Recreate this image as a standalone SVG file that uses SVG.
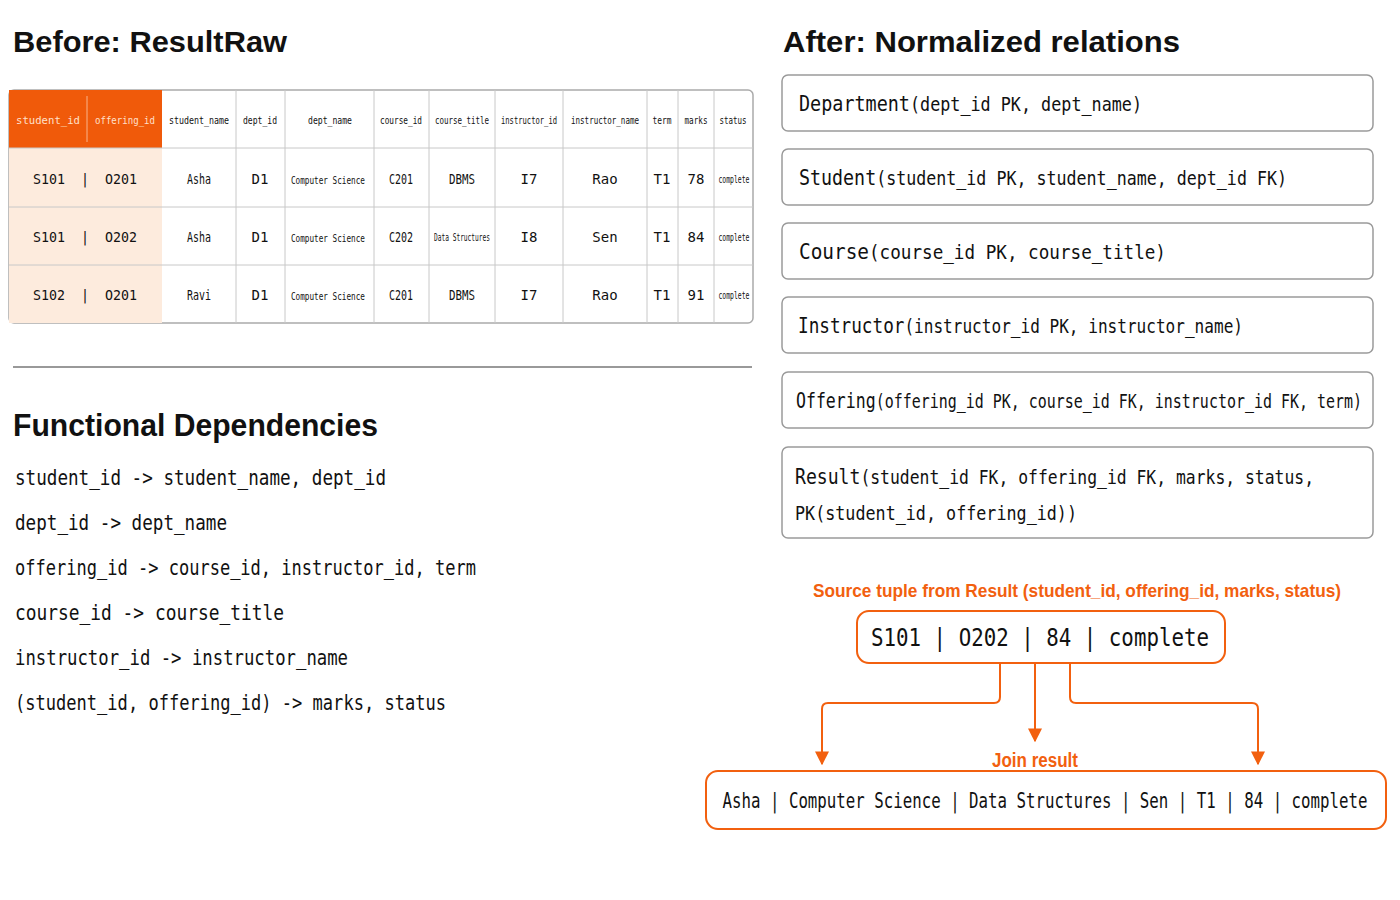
<svg xmlns="http://www.w3.org/2000/svg" width="1400" height="900" viewBox="0 0 1400 900">
<style>
.h{font-family:"Liberation Sans",Arial,sans-serif;font-weight:bold;fill:#111}
.m{font-family:"DejaVu Sans Mono","Liberation Mono",monospace;fill:#111}
.th{font-size:11px;text-anchor:middle}
.td{font-size:14px;text-anchor:middle}
.rel{fill:#fff;stroke:#9a9a9a;stroke-width:1.5}
.or{fill:#fff;stroke:#F2600F;stroke-width:2}
.cn{fill:none;stroke:#F2600F;stroke-width:2}
.ol{font-family:"Liberation Sans",Arial,sans-serif;font-weight:bold;fill:#F2600F}
.grid{stroke:#c8c8c8;stroke-width:1}
</style>
<defs>
<marker id="ar" viewBox="0 0 10 10" refX="9" refY="5" markerWidth="7" markerHeight="7" orient="auto"><path d="M0,0L10,5L0,10z" fill="#F2600F"/></marker>
</defs>
<rect width="1400" height="900" fill="#fff"/>
<text class="h" x="13" y="52" font-size="30" textLength="274" lengthAdjust="spacingAndGlyphs">Before: ResultRaw</text>
<text class="h" x="783" y="52" font-size="30" textLength="397" lengthAdjust="spacingAndGlyphs">After: Normalized relations</text>

<g id="table">
<rect x="9" y="90" width="744" height="233" rx="5" fill="#fff" stroke="#aaa" stroke-width="1.5"/>
<rect x="9" y="90" width="153" height="58" fill="#F05A0A"/>
<rect x="9" y="148" width="153" height="175" fill="#FDEBDD"/>
<line x1="87" y1="96" x2="87" y2="142" stroke="#f9b38b"/>
<g class="grid">
<line x1="9" y1="148" x2="753" y2="148"/><line x1="9" y1="207" x2="753" y2="207"/><line x1="9" y1="265" x2="753" y2="265"/>
<line x1="236" y1="90" x2="236" y2="323"/><line x1="285" y1="90" x2="285" y2="323"/><line x1="374" y1="90" x2="374" y2="323"/><line x1="429" y1="90" x2="429" y2="323"/><line x1="495" y1="90" x2="495" y2="323"/><line x1="563" y1="90" x2="563" y2="323"/><line x1="647" y1="90" x2="647" y2="323"/><line x1="678" y1="90" x2="678" y2="323"/><line x1="714" y1="90" x2="714" y2="323"/>
</g>
<g class="m th">
<text x="48" y="124" style="fill:#ffe0cc" textLength="64" lengthAdjust="spacingAndGlyphs">student_id</text>
<text x="125" y="124" style="fill:#ffe0cc" textLength="60" lengthAdjust="spacingAndGlyphs">offering_id</text>
<text x="199" y="124" textLength="60" lengthAdjust="spacingAndGlyphs">student_name</text>
<text x="260" y="124" textLength="34" lengthAdjust="spacingAndGlyphs">dept_id</text>
<text x="330" y="124" textLength="44" lengthAdjust="spacingAndGlyphs">dept_name</text>
<text x="401" y="124" textLength="42" lengthAdjust="spacingAndGlyphs">course_id</text>
<text x="462" y="124" textLength="54" lengthAdjust="spacingAndGlyphs">course_title</text>
<text x="529" y="124" textLength="56" lengthAdjust="spacingAndGlyphs">instructor_id</text>
<text x="605" y="124" textLength="68" lengthAdjust="spacingAndGlyphs">instructor_name</text>
<text x="662" y="124" textLength="19" lengthAdjust="spacingAndGlyphs">term</text>
<text x="696" y="124" textLength="23" lengthAdjust="spacingAndGlyphs">marks</text>
<text x="733" y="124" textLength="27" lengthAdjust="spacingAndGlyphs">status</text>
</g>
<g class="m td">
<text x="85" y="184" textLength="104" lengthAdjust="spacingAndGlyphs" xml:space="preserve">S101  |  O201</text>
<text x="199" y="184" textLength="24" lengthAdjust="spacingAndGlyphs">Asha</text><text x="260" y="184">D1</text>
<text x="328" y="184" font-size="11" textLength="74" lengthAdjust="spacingAndGlyphs">Computer Science</text>
<text x="401" y="184" textLength="24" lengthAdjust="spacingAndGlyphs">C201</text><text x="462" y="184" textLength="26" lengthAdjust="spacingAndGlyphs">DBMS</text><text x="529" y="184">I7</text><text x="605" y="184">Rao</text><text x="662" y="184">T1</text><text x="696" y="184">78</text>
<text x="734" y="183" font-size="10" textLength="31" lengthAdjust="spacingAndGlyphs">complete</text>

<text x="85" y="242" textLength="104" lengthAdjust="spacingAndGlyphs" xml:space="preserve">S101  |  O202</text>
<text x="199" y="242" textLength="24" lengthAdjust="spacingAndGlyphs">Asha</text><text x="260" y="242">D1</text>
<text x="328" y="242" font-size="11" textLength="74" lengthAdjust="spacingAndGlyphs">Computer Science</text>
<text x="401" y="242" textLength="24" lengthAdjust="spacingAndGlyphs">C202</text>
<text x="462" y="241" font-size="10" textLength="56" lengthAdjust="spacingAndGlyphs">Data Structures</text>
<text x="529" y="242">I8</text><text x="605" y="242">Sen</text><text x="662" y="242">T1</text><text x="696" y="242">84</text>
<text x="734" y="241" font-size="10" textLength="31" lengthAdjust="spacingAndGlyphs">complete</text>

<text x="85" y="300" textLength="104" lengthAdjust="spacingAndGlyphs" xml:space="preserve">S102  |  O201</text>
<text x="199" y="300" textLength="24" lengthAdjust="spacingAndGlyphs">Ravi</text><text x="260" y="300">D1</text>
<text x="328" y="300" font-size="11" textLength="74" lengthAdjust="spacingAndGlyphs">Computer Science</text>
<text x="401" y="300" textLength="24" lengthAdjust="spacingAndGlyphs">C201</text><text x="462" y="300" textLength="26" lengthAdjust="spacingAndGlyphs">DBMS</text><text x="529" y="300">I7</text><text x="605" y="300">Rao</text><text x="662" y="300">T1</text><text x="696" y="300">91</text>
<text x="734" y="299" font-size="10" textLength="31" lengthAdjust="spacingAndGlyphs">complete</text>
</g>
</g>

<line x1="13" y1="367" x2="752" y2="367" stroke="#777" stroke-width="1.5"/>
<text class="h" x="13" y="436" font-size="32" textLength="365" lengthAdjust="spacingAndGlyphs">Functional Dependencies</text>
<g class="m" font-size="21">
<text x="15" y="485" textLength="371" lengthAdjust="spacingAndGlyphs">student_id -&gt; student_name, dept_id</text>
<text x="15" y="530" textLength="212" lengthAdjust="spacingAndGlyphs">dept_id -&gt; dept_name</text>
<text x="15" y="575" textLength="461" lengthAdjust="spacingAndGlyphs">offering_id -&gt; course_id, instructor_id, term</text>
<text x="15" y="620" textLength="269" lengthAdjust="spacingAndGlyphs">course_id -&gt; course_title</text>
<text x="15" y="665" textLength="333" lengthAdjust="spacingAndGlyphs">instructor_id -&gt; instructor_name</text>
<text x="15" y="710" textLength="431" lengthAdjust="spacingAndGlyphs">(student_id, offering_id) -&gt; marks, status</text>
</g>

<g id="department"><rect class="rel" x="782" y="75" width="591" height="56" rx="6"/>
<text class="m" x="799" y="111" font-size="20" textLength="343" lengthAdjust="spacingAndGlyphs"><tspan font-size="22">Department</tspan>(dept_id PK, dept_name)</text></g>
<g id="student"><rect class="rel" x="782" y="149" width="591" height="56" rx="6"/>
<text class="m" x="799" y="185" font-size="20" textLength="488" lengthAdjust="spacingAndGlyphs"><tspan font-size="22">Student</tspan>(student_id PK, student_name, dept_id FK)</text></g>
<g id="course"><rect class="rel" x="782" y="223" width="591" height="56" rx="6"/>
<text class="m" x="799" y="259" font-size="20" textLength="367" lengthAdjust="spacingAndGlyphs"><tspan font-size="22">Course</tspan>(course_id PK, course_title)</text></g>
<g id="instructor"><rect class="rel" x="782" y="297" width="591" height="56" rx="6"/>
<text class="m" x="798" y="333" font-size="20" textLength="445" lengthAdjust="spacingAndGlyphs"><tspan font-size="22">Instructor</tspan>(instructor_id PK, instructor_name)</text></g>
<g id="offering"><rect class="rel" x="782" y="372" width="591" height="56" rx="6"/>
<text class="m" x="796" y="408" font-size="19" textLength="566" lengthAdjust="spacingAndGlyphs"><tspan font-size="21">Offering</tspan>(offering_id PK, course_id FK, instructor_id FK, term)</text></g>
<g id="result"><rect class="rel" x="782" y="447" width="591" height="91" rx="6"/>
<text class="m" x="795" y="484" font-size="19" textLength="519" lengthAdjust="spacingAndGlyphs"><tspan font-size="21">Result</tspan>(student_id FK, offering_id FK, marks, status,</text>
<text class="m" x="795" y="520" font-size="20" textLength="282" lengthAdjust="spacingAndGlyphs">PK(student_id, offering_id))</text></g>

<text class="ol" x="1077" y="597" font-size="19" text-anchor="middle" textLength="528" lengthAdjust="spacingAndGlyphs">Source tuple from Result (student_id, offering_id, marks, status)</text>
<g id="source"><rect class="or" x="857" y="611" width="368" height="52" rx="12"/>
<text class="m" x="1040" y="646" font-size="24" text-anchor="middle" textLength="338" lengthAdjust="spacingAndGlyphs">S101 | O202 | 84 | complete</text></g>

<g id="connectors">
<path class="cn" d="M1000,663V697q0,6-6,6H828q-6,0-6,6V764" marker-end="url(#ar)"/>
<path class="cn" d="M1035,663V741" marker-end="url(#ar)"/>
<path class="cn" d="M1070,663V697q0,6,6,6H1252q6,0,6,6V764" marker-end="url(#ar)"/>
</g>
<text class="ol" x="1035" y="767" font-size="20" text-anchor="middle" textLength="86" lengthAdjust="spacingAndGlyphs">Join result</text>
<g id="join"><rect class="or" x="706" y="771" width="680" height="58" rx="12"/>
<text class="m" x="1045" y="808" font-size="21" text-anchor="middle" textLength="645" lengthAdjust="spacingAndGlyphs">Asha | Computer Science | Data Structures | Sen | T1 | 84 | complete</text></g>
</svg>
